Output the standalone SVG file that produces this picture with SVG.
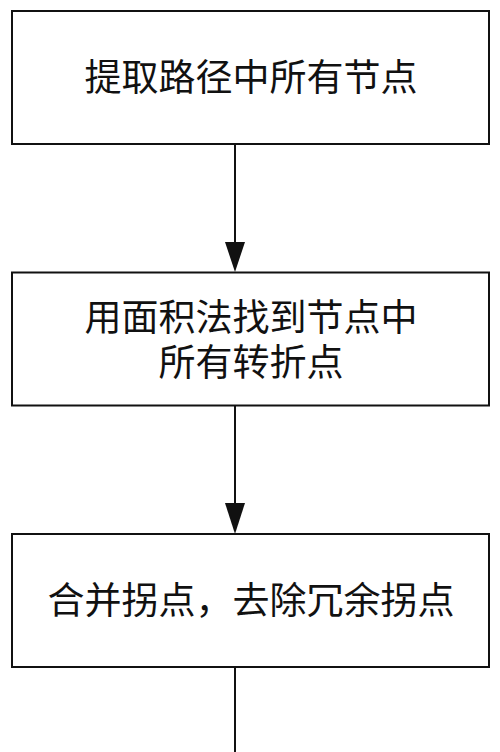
<svg xmlns="http://www.w3.org/2000/svg" width="500" height="752" viewBox="0 0 500 752">
<style>
.box{fill:#fff;stroke:#111;stroke-width:2}
.lbl{font-family:"Noto Sans CJK SC","Noto Sans",sans-serif;font-size:37px;fill:#111;text-anchor:middle}
.con{stroke:#111;stroke-width:2;fill:none}
.head{fill:#111}
</style>
<rect width="500" height="752" fill="#fff"/>
<g id="connectors">
<line class="con" x1="235" y1="144" x2="235" y2="244"/>
<polygon class="head" points="225,242 245,242 235,272"/>
<line class="con" x1="235" y1="405" x2="235" y2="505"/>
<polygon class="head" points="225,503 245,503 235,534"/>
<line class="con" x1="235" y1="667" x2="235" y2="752"/>
</g>
<g id="node1">
<rect class="box" x="12" y="11" width="477" height="133"/>
<text class="lbl" x="251" y="91">提取路径中所有节点</text>
</g>
<g id="node2">
<rect class="box" x="12" y="272.5" width="477" height="133"/>
<text class="lbl" x="251" y="331">用面积法找到节点中<tspan x="251" dy="45">所有转折点</tspan></text>
</g>
<g id="node3">
<rect class="box" x="12" y="534" width="477" height="133"/>
<text class="lbl" x="251" y="614">合并拐点，去除冗余拐点</text>
</g>
</svg>
